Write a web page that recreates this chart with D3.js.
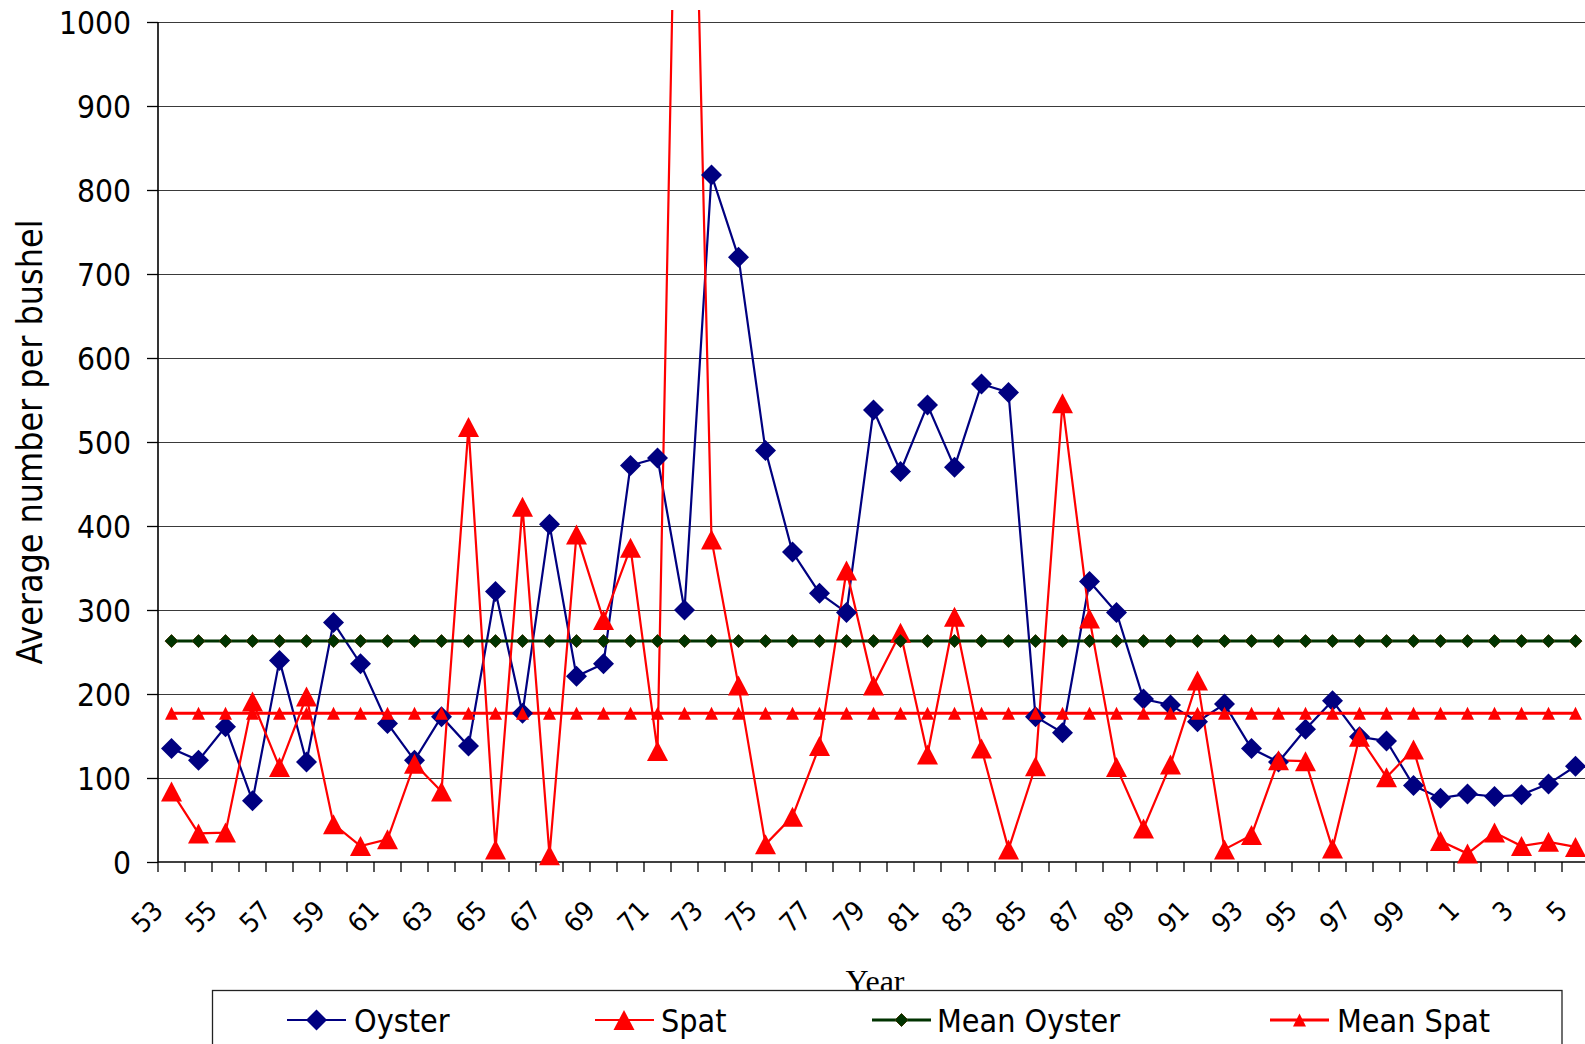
<!DOCTYPE html>
<html><head><meta charset="utf-8">
<script src="https://cdn.jsdelivr.net/npm/d3@7"></script>
<style>body{margin:0;background:#fff}svg{display:block}</style>
</head><body>
<svg id="chart" width="1585" height="1044"></svg>
<script>
const years = ["53","54","55","56","57","58","59","60","61","62","63","64","65","66","67","68","69","70","71","72","73","74","75","76","77","78","79","80","81","82","83","84","85","86","87","88","89","90","91","92","93","94","95","96","97","98","99","0","1","2","3","4","5"];
const oyster = [135,121,161,73,240,119,285,236,165,121,173,138,322,177,402,221,236,472,481,300,818,720,490,369,320,297,538,465,544,470,569,559,173,154,334,297,194,187,167,188,135,119,158,192,149,144,91,76,81,78,80,93,114];
const spat = [84,34,35,191,113,197,45,19,27,117,84,518,15,423,8,390,288,374,132,1750,384,210,21,54,138,347,210,273,128,292,135,15,114,546,290,113,40,116,216,15,32,121,120,16,149,101,134,25,10,35,19,24,18];
const meanOyster = 263;
const meanSpat = 177;
const yTicks = [0,100,200,300,400,500,600,700,800,900,1000];
const xTickLabels = years.filter((d,i) => i % 2 === 0);
const seriesNames = ["Oyster","Spat","Mean Oyster","Mean Spat"];
const yTitle = "Average number per bushel";
const xTitle = "Year";

const FONT = '"DejaVu Sans Condensed","DejaVu Sans",sans-serif';
const svg = d3.select("#chart");
const L = 158, R = 1589, T = 22, B = 862;

const x = d3.scaleBand().domain(years).range([L, R]).padding(0);
const y = d3.scaleLinear().domain([0, 1000]).range([B, T]);
const cx = d => x(d) + x.bandwidth() / 2;

const C_OY = "#000080", C_SP = "#ff0000", C_MO = "#003300", C_MOS = "#333300";

const diamond = s => `M0,${-s}L${s},0L0,${s}L${-s},0Z`;
const tri = (w, h) => `M0,${-h/2}L${w/2},${h/2}L${-w/2},${h/2}Z`;

svg.append("defs").append("clipPath").attr("id","plotclip")
  .append("rect").attr("x", L).attr("y", 10).attr("width", R - L).attr("height", 1044);

// gridlines
svg.append("g").attr("transform", `translate(${L},0)`)
  .call(d3.axisLeft(y).tickValues(yTicks.slice(1)).tickSize(-(R - L)).tickFormat(""))
  .call(g => g.select(".domain").remove())
  .call(g => g.selectAll("line").attr("stroke", "#3a3a3a").attr("stroke-width", 1.1));

// y axis
const yAx = svg.append("g").attr("transform", `translate(${L},0)`)
  .call(d3.axisLeft(y).tickValues(yTicks).tickSize(11).tickPadding(16).tickFormat(d3.format("d")));
yAx.select(".domain").attr("stroke", "#000").attr("stroke-width", 1.6).attr("d", `M0,${B}V${T}`);
yAx.selectAll(".tick line").attr("stroke", "#000").attr("stroke-width", 1.3);
yAx.selectAll(".tick text").attr("font-family", FONT).attr("font-size", 31.5).attr("fill", "#000").attr("dy", "0.38em");

// x axis
const xAx = svg.append("g");
xAx.append("line").attr("x1", L).attr("x2", R).attr("y1", B).attr("y2", B).attr("stroke", "#000").attr("stroke-width", 1.6);
xAx.selectAll("line.tk").data(years.concat(["__end"])).join("line").attr("class","tk")
  .attr("x1", d => d === "__end" ? R : x(d)).attr("x2", d => d === "__end" ? R : x(d))
  .attr("y1", B).attr("y2", B + 10).attr("stroke", "#000").attr("stroke-width", 1.3);
xAx.selectAll("text").data(xTickLabels).join("text")
  .attr("transform", d => `translate(${cx(d) - 12},${907}) rotate(-45)`)
  .attr("text-anchor", "end").attr("dominant-baseline", "middle")
  .attr("font-family", FONT).attr("font-size", 27).attr("fill", "#000").text(d => d);

// titles
svg.append("text").attr("transform", `translate(41.7,442) rotate(-90)`)
  .attr("text-anchor", "middle").attr("font-family", FONT).attr("font-size", 35.5).attr("fill", "#000").text(yTitle);
svg.append("text").attr("x", 875).attr("y", 992).attr("text-anchor", "middle")
  .attr("font-family", '"Liberation Serif","Times New Roman",serif').attr("font-size", 32).attr("fill", "#000").text(xTitle);

// series
const line = d3.line().x((d, i) => cx(years[i])).y(d => y(d));
const plot = svg.append("g");
const lines = plot.append("g").attr("clip-path", "url(#plotclip)");

function drawSeries(vals, color, width, markerPath, fill, stroke) {
  lines.append("path").datum(vals).attr("d", line).attr("fill", "none").attr("stroke", color).attr("stroke-width", width).attr("stroke-linejoin","miter");
  plot.append("g").selectAll("path").data(vals).join("path")
    .attr("transform", (d, i) => `translate(${cx(years[i])},${y(d)})`)
    .attr("d", markerPath).attr("fill", fill).attr("stroke", stroke || "none").attr("stroke-width", 1);
}
drawSeries(oyster, C_OY, 2.2, diamond(10.5), C_OY);
drawSeries(spat, C_SP, 2.2, tri(21, 20), C_SP);
drawSeries(years.map(() => meanOyster), C_MO, 3, diamond(6.5), C_MO, C_MOS);
drawSeries(years.map(() => meanSpat), C_SP, 3, tri(13, 13), C_SP);

// legend
const lg = svg.append("g");
lg.append("rect").attr("x", 212.5).attr("y", 990.5).attr("width", 1349.5).attr("height", 80)
  .attr("fill", "#fff").attr("stroke", "#222").attr("stroke-width", 1.3);
const legendItems = [
  {name: seriesNames[0], x0: 287, mx: 316.5, tx: 354, color: C_OY, m: diamond(10.5), fill: C_OY, w: 2.2},
  {name: seriesNames[1], x0: 595, mx: 624, tx: 661, color: C_SP, m: tri(21, 20), fill: C_SP, w: 2.2},
  {name: seriesNames[2], x0: 872, mx: 901.5, tx: 937, color: C_MO, m: diamond(6.5), fill: C_MO, stroke: C_MOS, w: 3},
  {name: seriesNames[3], x0: 1270, mx: 1299.5, tx: 1337, color: C_SP, m: tri(13, 13), fill: C_SP, w: 3}
];
const LY = 1020;
legendItems.forEach(it => {
  lg.append("line").attr("x1", it.x0).attr("x2", it.x0 + 59).attr("y1", LY).attr("y2", LY).attr("stroke", it.color).attr("stroke-width", it.w);
  lg.append("path").attr("transform", `translate(${it.mx},${LY})`).attr("d", it.m).attr("fill", it.fill).attr("stroke", it.stroke || "none");
  lg.append("text").attr("x", it.tx).attr("y", LY).attr("dy", "0.36em").attr("font-family", FONT).attr("font-size", 32).attr("fill", "#000").text(it.name);
});
</script>
</body></html>
